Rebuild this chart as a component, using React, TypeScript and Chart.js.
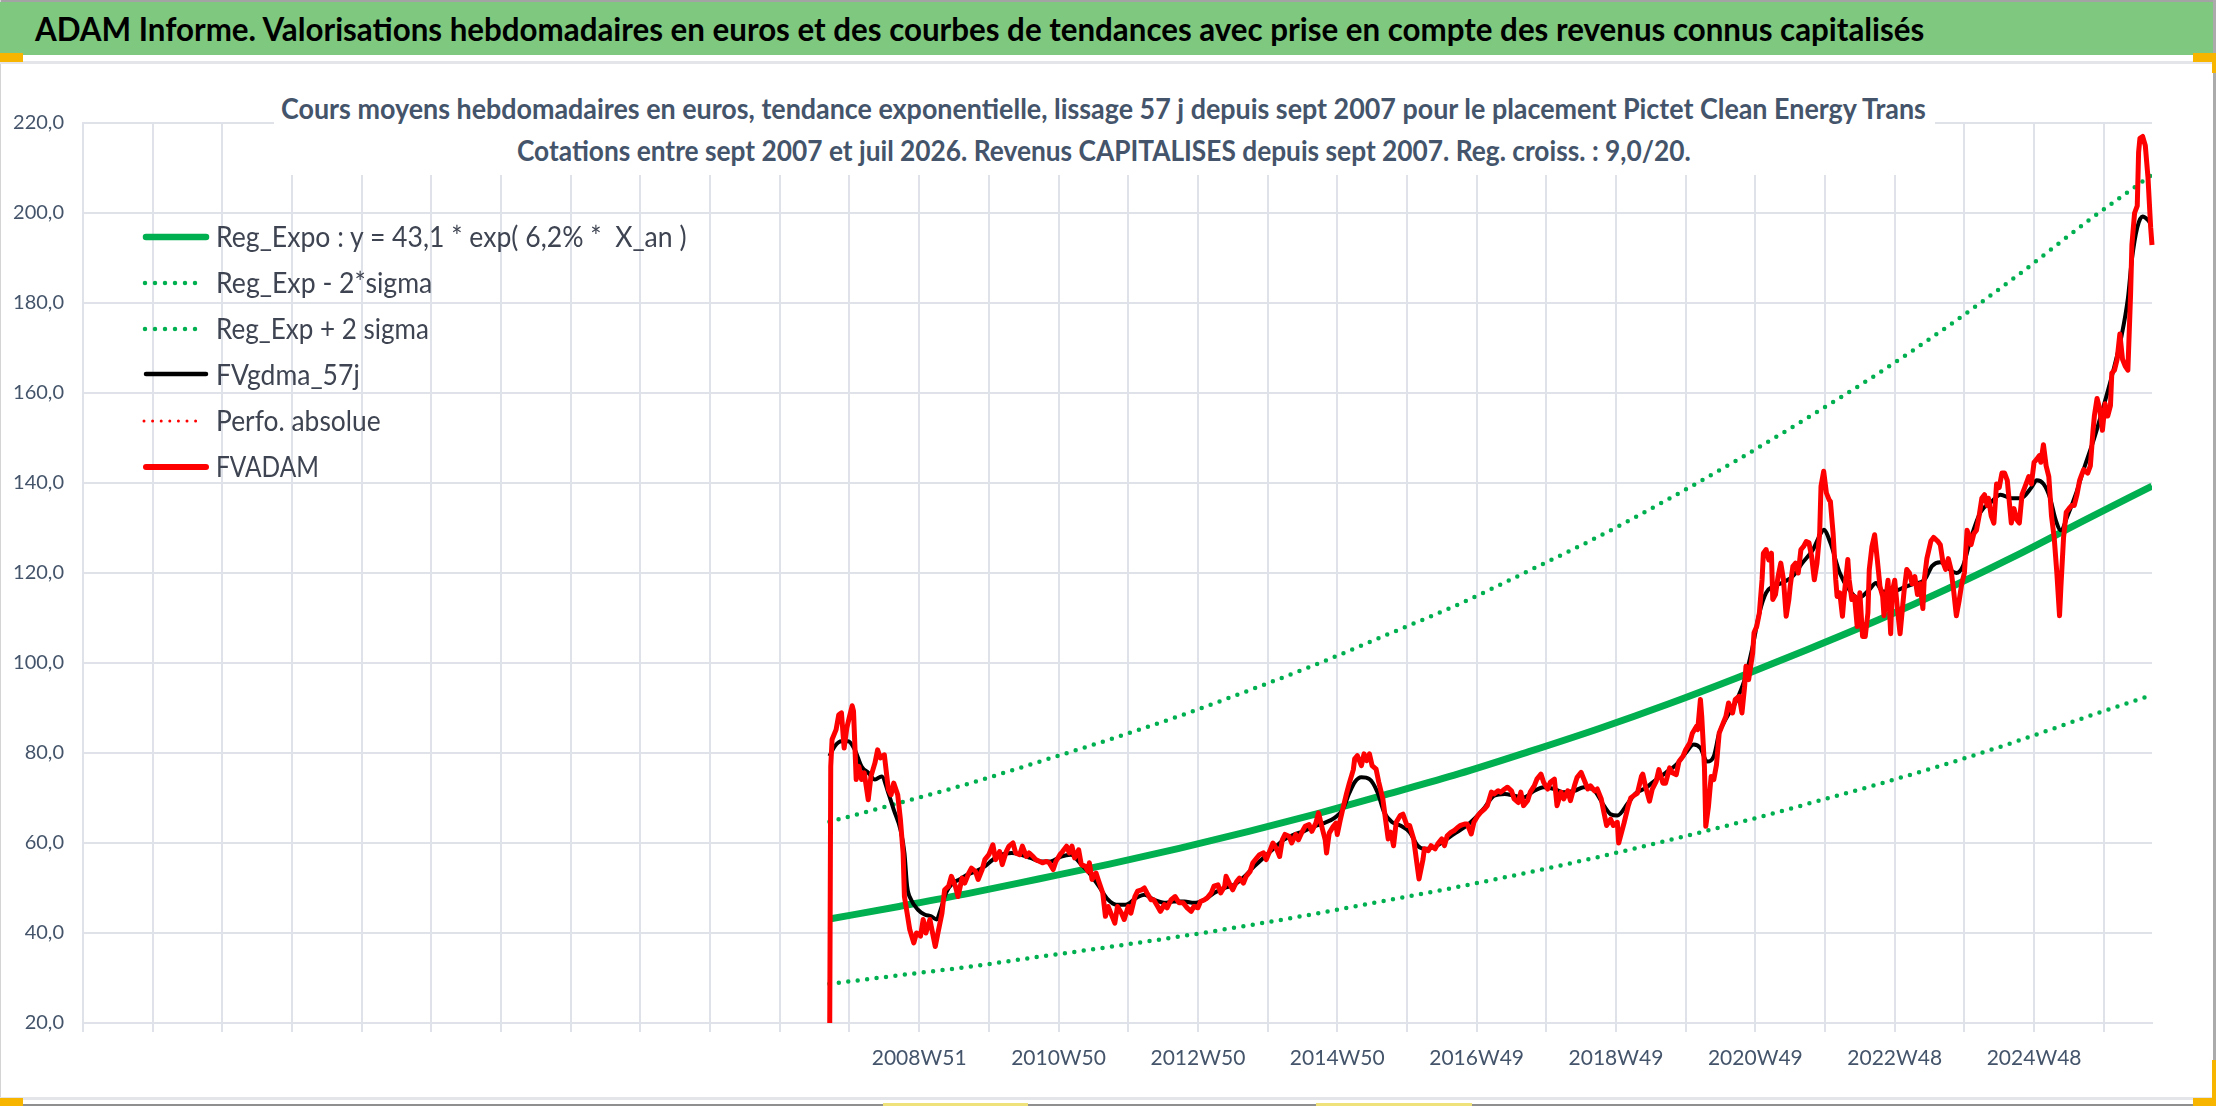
import React, { useEffect, useLayoutEffect, useRef, useState } from 'react';
import { Chart, registerables } from 'chart.js';

Chart.register(...registerables);

// ---------- texts ----------
const bannerTitle =
  'ADAM Informe. Valorisations hebdomadaires en euros et des courbes de tendances avec prise en compte des revenus connus capitalisés';
const subtitleLines = [
  'Cours moyens hebdomadaires en euros, tendance exponentielle, lissage 57 j depuis sept 2007 pour le placement Pictet Clean Energy Trans',
  'Cotations entre sept 2007 et juil 2026. Revenus CAPITALISES depuis sept 2007. Reg. croiss. : 9,0/20.',
];
const legendLabels = [
  'Reg_Expo : y = 43,1 * exp( 6,2% *  X_an )',
  'Reg_Exp - 2*sigma',
  'Reg_Exp + 2 sigma',
  'FVgdma_57j',
  'Perfo. absolue',
  'FVADAM',
];

// ---------- axes ----------
const yMin = 20;
const yMax = 220;
const yStep = 20;
const weeksPerTick = 52;
const leadWeeks = 557; // empty weekly categories before the first quote (sept 2007)
const axisWeeks = 1544;
const xTickLabels = [
  '', '', '', '', '', '', '', '', '', '', '', '',
  '2008W51', '', '2010W50', '', '2012W50', '', '2014W50', '', '2016W49', '',
  '2018W49', '', '2020W49', '', '2022W48', '', '2024W48', '',
];

// ---------- series (weeks counted from the first quote) ----------
const regWeeks = [0, 52, 104, 156, 209, 261, 313, 365, 417, 470, 522, 574, 626, 678, 730, 783, 835, 887, 939, 987];
const regExpo = [43.1, 45.9, 48.8, 52.0, 55.3, 58.8, 62.6, 66.6, 70.9, 75.4, 80.3, 85.4, 90.9, 96.8, 103.0, 109.6, 116.6, 124.1, 132.1, 139.3];
const regLow = [28.7, 30.6, 32.5, 34.7, 36.9, 39.2, 41.7, 44.4, 47.3, 50.3, 53.5, 56.9, 60.6, 64.5, 68.7, 73.1, 77.7, 82.7, 88.1, 92.9];
const regHigh = [64.7, 68.9, 73.2, 78.0, 83.0, 88.2, 93.9, 99.9, 106.4, 113.1, 120.5, 128.1, 136.4, 145.2, 154.5, 164.4, 174.9, 186.2, 198.2, 208.5];

const fvgdmaWeeks = [
  0, 4, 9, 14, 19, 24, 29, 34, 39, 44, 48, 53, 56, 58, 61, 66, 71, 76, 80, 83, 87, 92, 97, 103, 109, 116, 122, 128, 136, 143,
  150, 158, 165, 173, 180, 188, 194, 201, 208, 214, 221, 229, 235, 242, 250, 257, 265, 272, 280, 287, 295, 302, 310, 317, 325,
  332, 339, 347, 354, 362, 369, 377, 383, 388, 392, 397, 403, 409, 414, 420, 426, 433, 439, 444, 451, 459, 466, 474, 481, 489,
  496, 504, 511, 518, 526, 533, 541, 548, 556, 563, 571, 578, 583, 588, 596, 602, 609, 617, 624, 632, 639, 645, 650, 655, 660,
  664, 670, 676, 683, 689, 694, 699, 704, 711, 719, 726, 734, 740, 742, 747, 754, 761, 768, 776, 781, 786, 795, 802, 809, 817,
  823, 829, 836, 841, 846, 852, 859, 867, 874, 882, 889, 897, 901, 906, 911, 915, 919, 924, 930, 936, 944, 951, 959, 964, 969,
  972, 976, 980, 984, 986,
];
const fvgdmaValues = [
  79.3, 81.5, 82.6, 82.6, 80.7, 77.0, 75.6, 74.1, 74.8, 71.1, 67.4, 63.0, 57.8, 50.4, 47.4, 45.2, 44.1, 43.7, 43.0, 45.2, 48.9,
  51.1, 51.9, 53.0, 53.7, 54.8, 56.3, 57.4, 57.8, 57.4, 56.7, 55.9, 55.9, 57.0, 57.4, 55.2, 53.3, 50.4, 47.4, 46.3, 46.3, 47.8,
  48.5, 47.4, 46.7, 47.0, 47.0, 46.7, 47.4, 48.9, 50.0, 50.7, 52.6, 54.8, 57.0, 58.9, 60.7, 61.9, 62.6, 63.7, 64.4, 65.6, 67.4,
  71.1, 73.5, 74.6, 74.2, 71.3, 66.8, 64.6, 63.9, 62.4, 59.4, 58.7, 59.0, 60.5, 62.0, 63.5, 65.3, 67.9, 70.5, 70.9, 70.5, 70.1,
  71.6, 72.4, 72.0, 71.3, 71.6, 72.4, 71.6, 68.3, 66.4, 66.1, 68.9, 71.1, 72.2, 74.1, 75.6, 77.4, 80.0, 81.9, 81.1, 78.1, 79.3,
  84.4, 88.1, 91.1, 96.3, 103.7, 111.1, 115.6, 117.0, 117.8, 119.3, 122.2, 125.2, 128.9, 129.6, 126.7, 120.0, 116.3, 114.4,
  116.3, 117.8, 115.9, 116.0, 116.8, 117.6, 118.4, 121.6, 122.4, 120.8, 120.0, 121.6, 127.9, 133.5, 135.8, 137.4, 136.6, 136.6,
  139.0, 140.6, 139.8, 136.6, 131.9, 129.5, 132.7, 137.4, 143.0, 150.1, 157.2, 166.0, 172.3, 181.0, 189.7, 196.8, 199.2, 198.4,
  197.6,
];

const fvadamWeeks = [
  0, 1, 2, 5, 7, 9, 11, 13, 15, 17, 18, 20, 22, 24, 26, 29, 31, 34, 36, 38, 41, 44, 46, 48, 51, 53, 55, 56, 58, 60, 63, 65, 68,
  70, 72, 75, 76, 79, 81, 84, 86, 89, 91, 94, 96, 99, 101, 104, 106, 109, 111, 114, 116, 119, 122, 124, 127, 129, 132, 134, 137,
  139, 142, 144, 147, 149, 152, 154, 157, 159, 162, 164, 167, 169, 172, 174, 177, 179, 181, 183, 186, 188, 191, 193,
  194, 196, 199, 201, 204, 206, 208, 210, 213, 215, 218, 220, 223, 225, 228, 230, 233, 235, 237, 240, 242, 245, 247, 250, 252,
  255, 258, 261, 264, 267, 270, 272, 275, 277, 280, 282, 285, 287, 290, 292, 295, 296, 299, 301, 304, 306, 309, 311, 314, 316,
  319, 321, 324, 326, 329, 331, 334, 336, 338, 340, 343, 345, 348, 350, 353, 355, 358, 360, 363, 365, 368, 370, 371, 373, 376,
  378, 379, 381, 383, 386, 388, 391,
  392, 394, 397, 399, 401, 403, 405, 408, 410, 413, 415, 417, 419, 421, 423, 426, 428, 431, 433, 436, 438, 440, 443, 444, 447,
  449, 452, 454, 457, 459, 461, 464, 466, 469, 471, 474, 476, 479, 481, 484, 486, 489, 491, 494, 496, 499, 501, 504, 506, 509,
  511, 514, 516, 518, 521, 523, 526, 528, 531, 533, 536, 538, 541, 543, 546, 548, 551, 553, 556, 558, 561, 563, 566, 568, 571,
  573, 576, 578, 580, 583, 585, 588,
  589, 593, 596, 598, 601, 603, 606, 607, 609, 612, 614, 617, 619, 622, 624, 627, 629, 632, 634, 637, 639, 642, 644, 647, 648,
  650, 651, 653, 654, 656, 658, 660, 662, 664, 666, 669, 671, 674, 676, 679, 681, 683, 684, 686, 689, 690, 692, 694, 696, 697,
  699, 701, 703, 704, 706, 708, 710, 712, 714, 716, 717, 719, 721, 723, 725, 727, 729, 731, 733, 735, 737, 739, 740, 742, 744,
  746, 747, 749, 751, 752, 754, 756, 757, 760, 761, 763, 765, 767, 769, 771, 773, 775, 776, 778, 780, 782, 784, 786,
  787, 790, 792, 793, 795, 797, 799, 801, 802, 804, 806, 808, 810, 812, 814, 816, 817, 819, 822, 824, 827, 829, 831, 833, 835,
  837, 839, 841, 843, 845, 847, 849, 850, 852, 854, 856, 858, 860, 862, 864, 865, 867, 869, 871, 873, 875, 877, 879, 880, 882,
  884, 886, 888, 890, 892, 894, 895, 897, 899, 901, 903, 904, 906, 908, 910, 912, 914, 916, 918, 919, 921, 923, 925, 927, 929,
  931, 933, 934, 936, 939, 941, 943, 944, 946, 948, 950, 952, 954, 956, 957, 959, 961, 963, 965, 967, 969, 971, 972, 974, 976,
  977, 978, 980, 982, 984, 986, 987,
];
const fvadamValues = [
  0, 77.0, 83.0, 85.2, 88.5, 88.9, 81.1, 85.6, 88.1, 90.5, 89.3, 74.1, 77.0, 74.1, 75.6, 69.6, 74.8, 77.8, 80.7, 78.9, 79.6, 71.9,
  70.7, 73.3, 70.7, 65.2, 57.8, 48.1, 44.4, 40.7, 37.8, 40.0, 39.3, 43.0, 40.0, 43.0, 41.5, 37.0, 40.0, 44.4, 49.6, 50.4, 52.6,
  50.4, 48.1, 52.2, 51.1, 53.3, 54.4, 53.7, 51.9, 54.1, 56.3, 57.4, 59.6, 56.3, 58.1, 55.2, 58.1, 59.3, 60.0, 57.8, 57.4, 59.3,
  57.0, 57.8, 57.0, 56.3, 55.9, 55.6, 55.9, 55.6, 54.1, 55.9, 57.4, 58.1, 59.3, 57.8, 59.3, 56.7, 58.5, 55.2, 54.8, 53.7,
  55.6, 51.9, 53.3, 51.5, 48.9, 43.7, 45.9, 44.4, 42.2, 45.9, 44.4, 43.0, 45.9, 44.4, 48.1, 49.3, 49.6, 50.0, 48.9, 47.4, 47.4,
  45.9, 44.8, 46.3, 45.6, 47.4, 48.1, 46.7, 46.7, 45.6, 44.8, 45.9, 45.6, 47.0, 47.4, 47.8, 48.9, 50.4, 50.7, 48.9, 50.4, 52.6,
  50.7, 49.6, 51.5, 52.2, 51.1, 52.6, 53.7, 55.6, 56.7, 57.4, 57.8, 56.3, 58.5, 60.0, 58.5, 57.0, 60.7, 61.9, 61.5, 60.0, 61.9,
  60.7, 62.6, 63.7, 64.1, 62.6, 64.4, 66.7, 63.0, 60.7, 57.8, 62.2, 63.7, 64.4, 61.9, 64.8, 67.4, 71.1, 73.3, 76.3,
  78.7, 79.4, 77.2, 79.8, 78.3, 79.8, 77.2, 76.4, 73.5, 69.8, 65.3, 60.9, 62.4, 59.4, 64.6, 66.1, 66.4, 63.9, 63.9, 60.9, 56.4,
  52.0, 56.4, 58.7, 58.3, 59.4, 58.7, 59.8, 60.9, 59.4, 61.6, 62.4, 62.7, 63.5, 63.9, 64.2, 64.2, 62.0, 64.6, 66.1, 66.8, 67.6,
  68.3, 71.3, 70.9, 71.6, 71.3, 72.0, 72.4, 71.6, 69.8, 69.0, 71.3, 68.3, 69.4, 71.3, 72.7, 74.2, 75.3, 73.5, 72.0, 73.5, 74.2,
  68.3, 71.3, 69.8, 71.6, 69.4, 72.7, 74.6, 75.7, 74.2, 72.0, 72.7, 71.6, 72.0, 69.8, 66.8, 63.9, 65.3, 63.9, 64.6,
  60.0, 64.4, 68.1, 70.0, 70.7, 71.1, 74.8, 75.3, 72.6, 69.3, 71.9, 73.7, 76.3, 73.3, 73.3, 76.7, 75.6, 75.2, 78.1, 79.3, 80.7,
  82.2, 84.4, 85.9, 85.2, 91.9, 88.1, 77.0, 63.7, 68.1, 74.8, 74.1, 77.4, 84.4, 85.9, 88.1, 91.1, 88.9, 91.9, 92.6, 88.9, 94.8,
  99.3, 96.3, 102.2, 106.7, 108.1, 111.1, 118.5, 124.4, 125.2, 122.9, 124.4, 114.1, 115.2, 119.3, 122.2, 118.5, 110.4, 114.1,
  117.0, 121.5, 122.2, 120.0, 125.2, 125.9, 127.0, 126.7, 123.7, 118.5, 122.2, 128.9, 139.3, 142.6, 137.8, 136.3, 135.9, 128.9,
  118.5, 114.8, 115.6, 110.4, 114.1, 123.0, 118.5, 114.1, 114.8, 108.1, 115.6, 105.9, 105.9, 111.1, 120.7, 125.9, 128.5, 123.0,
  117.0, 114.8,
  110.5, 118.4, 106.5, 115.6, 118.4, 112.1, 106.5, 112.9, 116.0, 120.8, 120.0, 117.6, 119.2, 115.2, 117.6, 112.1, 118.4, 123.2,
  127.1, 127.9, 127.1, 126.3, 122.4, 120.8, 123.2, 120.8, 116.0, 110.5, 113.7, 117.6, 120.0, 129.5, 128.7, 126.3, 128.7, 129.5,
  132.7, 136.6, 137.4, 135.0, 136.6, 132.7, 131.1, 139.8, 139.0, 142.2, 142.2, 140.6, 137.4, 131.1, 134.3, 131.9, 131.1, 137.4,
  139.0, 140.6, 141.4, 139.8, 144.6, 145.3, 146.1, 144.6, 148.5, 143.8, 141.4, 132.7, 127.9, 120.0, 110.5, 116.8, 127.9, 133.5,
  134.3, 135.0, 135.0, 137.4, 140.6, 141.4, 143.0, 142.2, 143.8, 151.7, 154.9, 158.8, 156.4, 151.7, 157.6, 154.9, 157.2, 164.4,
  165.1, 167.5, 173.1, 167.5, 166.0, 165.1, 181.8, 192.9, 200.0, 201.6, 213.5, 216.6, 217.0, 215.0, 207.9, 196.8, 192.9,
];
const perfoWeeks: number[] = [];
const perfoValues: number[] = [];

// ---------- styles ----------
const GREEN = '#00B050';
const RED = '#FF0000';
const GRID = '#DFE3E9';
const AXIS_TEXT = '#44546A';
const FONT = 'Lato, "Open Sans", "DejaVu Sans", sans-serif';

function toPoints(weeks: number[], values: number[]) {
  return weeks.map((w, i) => ({ x: leadWeeks + w, y: values[i] }));
}

function FitText(props: {
  text: string;
  left: number;
  top: number;
  width: number;
  size: number;
  weight?: number;
  color: string;
}) {
  const ref = useRef<HTMLSpanElement>(null);
  const [sx, setSx] = useState(1);
  useLayoutEffect(() => {
    let alive = true;
    const measure = () => {
      const el = ref.current;
      if (!el || !alive) return;
      const w = el.offsetWidth;
      if (w > 0) setSx(props.width / w);
    };
    measure();
    const fonts = (document as any).fonts;
    if (fonts && fonts.ready) fonts.ready.then(measure);
    return () => {
      alive = false;
    };
  }, [props.text, props.width, props.size]);
  return (
    <span
      ref={ref}
      style={{
        position: 'absolute',
        left: props.left,
        top: props.top,
        fontFamily: FONT,
        fontSize: props.size,
        fontWeight: props.weight ?? 400,
        color: props.color,
        lineHeight: `${Math.round(props.size * 1.2)}px`,
        whiteSpace: 'pre',
        transform: `scaleX(${sx})`,
        transformOrigin: '0 0',
      }}
    >
      {props.text}
    </span>
  );
}

function LegendSample(props: { cy: number; color: string; width: number; dash?: string; x1: number; x2: number }) {
  return (
    <svg
      width={80}
      height={20}
      style={{ position: 'absolute', left: 138, top: props.cy - 10, overflow: 'visible' }}
    >
      <line
        x1={props.x1}
        x2={props.x2}
        y1={10}
        y2={10}
        stroke={props.color}
        strokeWidth={props.width}
        strokeLinecap="round"
        strokeDasharray={props.dash}
      />
    </svg>
  );
}

function PriceChart() {
  const ref = useRef<HTMLCanvasElement>(null);
  useEffect(() => {
    const canvas = ref.current;
    if (!canvas) return;
    const chart = new Chart(canvas, {
      type: 'line',
      data: {
        datasets: [
          {
            label: legendLabels[5],
            data: toPoints(fvadamWeeks, fvadamValues),
            borderColor: RED,
            backgroundColor: RED,
            borderWidth: 5,
            pointRadius: 0,
            tension: 0,
            borderJoinStyle: 'round',
            order: 0,
            clip: { left: 4, right: 4, top: 4, bottom: 0 },
          } as any,
          {
            label: legendLabels[4],
            data: toPoints(perfoWeeks, perfoValues),
            borderColor: RED,
            borderWidth: 3,
            borderDash: [0, 8.6],
            borderCapStyle: 'round',
            pointRadius: 0,
            order: 1,
          },
          {
            label: legendLabels[3],
            data: toPoints(fvgdmaWeeks, fvgdmaValues),
            borderColor: '#000000',
            borderWidth: 4,
            pointRadius: 0,
            cubicInterpolationMode: 'monotone',
            order: 2,
          },
          {
            label: legendLabels[2],
            data: toPoints(regWeeks, regHigh),
            borderColor: GREEN,
            borderWidth: 4.5,
            borderDash: [0, 9.5],
            borderCapStyle: 'round',
            pointRadius: 0,
            cubicInterpolationMode: 'monotone',
            order: 3,
          },
          {
            label: legendLabels[1],
            data: toPoints(regWeeks, regLow),
            borderColor: GREEN,
            borderWidth: 4.5,
            borderDash: [0, 9.5],
            borderCapStyle: 'round',
            pointRadius: 0,
            cubicInterpolationMode: 'monotone',
            order: 4,
          },
          {
            label: legendLabels[0],
            data: toPoints(regWeeks, regExpo),
            borderColor: GREEN,
            borderWidth: 7,
            pointRadius: 0,
            cubicInterpolationMode: 'monotone',
            order: 5,
          },
        ],
      },
      options: {
        animation: false,
        responsive: true,
        maintainAspectRatio: false,
        events: [],
        layout: { padding: { top: 60, right: 60, left: 0, bottom: 0 } },
        plugins: {
          legend: { display: false },
          title: { display: false },
          tooltip: { enabled: false },
        },
        scales: {
          x: {
            type: 'linear',
            min: 0,
            max: axisWeeks,
            ticks: {
              stepSize: weeksPerTick,
              includeBounds: false,
              autoSkip: false,
              maxRotation: 0,
              minRotation: 0,
              padding: 14,
              color: AXIS_TEXT,
              font: { family: FONT, size: 21 },
              callback: (v: any) => {
                const k = Math.round(Number(v) / weeksPerTick);
                return xTickLabels[k] ?? '';
              },
            },
            grid: { color: GRID, lineWidth: 2, tickLength: 9, drawTicks: true },
            border: { display: true, color: GRID, width: 2 },
            afterFit: (s: any) => {
              s.height = 75;
            },
          },
          y: {
            min: yMin,
            max: yMax,
            ticks: {
              stepSize: yStep,
              padding: 19,
              color: AXIS_TEXT,
              font: { family: FONT, size: 20 },
              callback: (v: any) => Number(v).toFixed(1).replace('.', ','),
            },
            grid: { color: GRID, lineWidth: 2, drawTicks: false },
            border: { display: true, color: GRID, width: 2 },
            afterFit: (s: any) => {
              s.width = 83;
            },
          },
        },
      } as any,
    });
    return () => chart.destroy();
  }, []);
  return <canvas ref={ref} style={{ display: 'block' }} />;
}

const legendRows = [
  { cy: 237, top: 219.1, width: 471, color: GREEN, lw: 6.5, dash: undefined as string | undefined, x1: 8, x2: 68 },
  { cy: 283, top: 265.3, width: 216, color: GREEN, lw: 4.5, dash: '0 10', x1: 7, x2: 67 },
  { cy: 328.5, top: 311.2, width: 213, color: GREEN, lw: 4.5, dash: '0 10', x1: 7, x2: 67 },
  { cy: 374.3, top: 356.9, width: 144, color: '#000000', lw: 4.5, dash: undefined, x1: 8, x2: 68 },
  { cy: 420.5, top: 402.9, width: 165, color: RED, lw: 3, dash: '0 8.6', x1: 6, x2: 66.2 },
  { cy: 466.5, top: 448.7, width: 103, color: RED, lw: 6, dash: undefined, x1: 8, x2: 68 },
];

export default function App() {
  return (
    <div
      style={{
        position: 'fixed',
        left: 0,
        top: 0,
        width: 2216,
        height: 1106,
        overflow: 'hidden',
        background: '#ffffff',
      }}
    >
      {/* chart */}
      <div style={{ position: 'absolute', left: 0, top: 63, width: 2212, height: 1035 }}>
        <PriceChart />
      </div>

      {/* frame */}
      <div style={{ position: 'absolute', left: 0, top: 0, width: 2216, height: 2, background: '#A3A3A3' }} />
      <div style={{ position: 'absolute', left: 0, top: 0, width: 1, height: 1106, background: '#D4D4D4' }} />
      <div style={{ position: 'absolute', left: 2213, top: 0, width: 3, height: 1106, background: '#ABABAB' }} />
      <div style={{ position: 'absolute', left: 0, top: 61, width: 2213, height: 3, background: '#E3E5E8' }} />
      <div style={{ position: 'absolute', left: 0, top: 1097, width: 2213, height: 3, background: '#E3E5E8' }} />
      <div style={{ position: 'absolute', left: 0, top: 1104, width: 2216, height: 2, background: '#8F8F8F' }} />

      {/* banner */}
      <div style={{ position: 'absolute', left: 0, top: 2, width: 2213, height: 53, background: '#7EC880' }} />
      <FitText text={bannerTitle} left={35} top={10} width={1889} size={32} weight={700} color="#000000" />

      {/* selection handles */}
      <div style={{ position: 'absolute', left: 0, top: 53, width: 23, height: 9, background: '#F7B500' }} />
      <div style={{ position: 'absolute', left: 2193, top: 53, width: 23, height: 9, background: '#F7B500' }} />
      <div style={{ position: 'absolute', left: 2212, top: 53, width: 4, height: 20, background: '#F7B500' }} />
      <div style={{ position: 'absolute', left: 0, top: 1098, width: 23, height: 8, background: '#F7B500' }} />
      <div style={{ position: 'absolute', left: 2193, top: 1098, width: 23, height: 8, background: '#F7B500' }} />
      <div style={{ position: 'absolute', left: 2212, top: 1060, width: 4, height: 46, background: '#F7B500' }} />
      <div style={{ position: 'absolute', left: 883, top: 1103, width: 145, height: 3, background: '#EFE27A' }} />
      <div style={{ position: 'absolute', left: 1316, top: 1103, width: 156, height: 3, background: '#EFE27A' }} />

      {/* chart title box */}
      <div style={{ position: 'absolute', left: 274, top: 66, width: 1661, height: 109, background: '#ffffff' }} />
      <FitText text={subtitleLines[0]} left={281} top={89.6} width={1645} size={29} weight={700} color="#44546A" />
      <FitText text={subtitleLines[1]} left={517} top={132.1} width={1174} size={29} weight={700} color="#44546A" />

      {/* legend */}
      {legendRows.map((r, i) => (
        <React.Fragment key={i}>
          <LegendSample cy={r.cy} color={r.color} width={r.lw} dash={r.dash} x1={r.x1} x2={r.x2} />
          <FitText text={legendLabels[i]} left={216} top={r.top} width={r.width} size={28} color="#3E4451" />
        </React.Fragment>
      ))}
    </div>
  );
}
